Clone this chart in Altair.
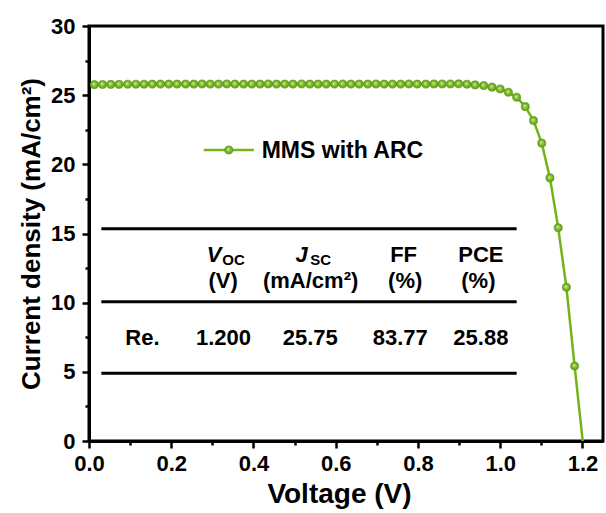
import altair as alt
import pandas as pd

# ---------------- data ----------------
voltage = [0.013, 0.033, 0.053, 0.073, 0.094, 0.114, 0.134, 0.154, 0.174, 0.194,
           0.214, 0.235, 0.255, 0.275, 0.295, 0.315, 0.335, 0.355, 0.376, 0.396,
           0.416, 0.436, 0.456, 0.476, 0.496, 0.517, 0.537, 0.557, 0.577, 0.597,
           0.617, 0.637, 0.657, 0.678, 0.698, 0.718, 0.738, 0.758, 0.778, 0.798,
           0.819, 0.839, 0.859, 0.879, 0.899, 0.919, 0.939, 0.960, 0.980, 1.000,
           1.020, 1.040, 1.061, 1.081, 1.101, 1.121, 1.141, 1.161, 1.181, 1.201]
current = [25.76, 25.77, 25.78, 25.78, 25.79, 25.79, 25.79, 25.80, 25.80, 25.80,
           25.80, 25.80, 25.80, 25.81, 25.80, 25.80, 25.81, 25.80, 25.80, 25.80,
           25.80, 25.81, 25.80, 25.80, 25.80, 25.81, 25.80, 25.80, 25.80, 25.80,
           25.81, 25.80, 25.80, 25.80, 25.81, 25.80, 25.80, 25.80, 25.81, 25.80,
           25.80, 25.81, 25.81, 25.81, 25.82, 25.79, 25.74, 25.69, 25.58, 25.45,
           25.21, 24.85, 24.17, 23.16, 21.53, 19.02, 15.42, 11.11, 5.42, -0.10]
series_name = "MMS with ARC"

x_major = [0.0, 0.2, 0.4, 0.6, 0.8, 1.0, 1.2]
x_minor = [0.1, 0.3, 0.5, 0.7, 0.9, 1.1]
y_major = [0, 5, 10, 15, 20, 25, 30]
y_minor = [2.5, 7.5, 12.5, 17.5, 22.5, 27.5]

row_label = "Re."
table_values = ["1.200", "25.75", "83.77", "25.88"]
header_units = ["(V)", "(mA/cm²)", "(%)", "(%)"]

# ---------------- layout (annotation positions in data units) ----------------
GREEN = "#74b41a"
FONT = "Liberation Sans"
row1_y, sub_y, row2_y, data_y = 12.94, 12.73, 11.06, 6.94
col_x = [0.327, 0.538, 0.757, 0.953]
unit_x = [0.326, 0.539, 0.769, 0.947]
label_x = 0.130
rule_ys = [15.35, 10.07, 4.90]
rule_x0, rule_x1 = 0.030, 1.040

df = pd.DataFrame({"V": voltage, "J": current})
xs = alt.Scale(domain=[0, 1.25], nice=False, zero=False)
ys = alt.Scale(domain=[0, 30], nice=False)

grad = alt.RadialGradient(
    gradient="radial",
    stops=[alt.GradientStop(offset=0, color="#f0f9dc"),
           alt.GradientStop(offset=0.35, color="#96cb45"),
           alt.GradientStop(offset=1, color="#5c9a12")],
    x1=0.42, y1=0.4, r1=0, x2=0.5, y2=0.5, r2=0.5)

major_x = alt.Axis(values=x_major, format=".1f", title="Voltage (V)", orient="bottom",
                   tickSize=7, tickWidth=2.5, labelPadding=5, titlePadding=6, labelFlush=False,
                   titleFontSize=28, labelFontSize=22, titleX=250, titleAlign="center")
minor_x = alt.Axis(values=x_minor, labels=False, title=None, orient="bottom",
                   tickSize=4, tickWidth=2.5, domain=False)
major_y = alt.Axis(values=y_major, format="d", title="Current density (mA/cm²)", orient="left",
                   tickSize=7, tickWidth=2.5, labelPadding=7, titlePadding=6, labelFlush=False,
                   titleFontSize=26, labelFontSize=22)
minor_y = alt.Axis(values=y_minor, labels=False, title=None, orient="left",
                   tickSize=4, tickWidth=2.5, domain=False)

line = alt.Chart(df).mark_line(color=GREEN, strokeWidth=2.5, clip=True).encode(
    x=alt.X("V:Q", scale=xs, axis=major_x),
    y=alt.Y("J:Q", scale=ys, axis=major_y))

points = alt.Chart(df).transform_filter("datum.J > 0").mark_point(
    filled=True, fill=grad, size=66, stroke="#5a9812", strokeWidth=0.6, opacity=1).encode(
    x=alt.X("V:Q", scale=xs, axis=minor_x),
    y=alt.Y("J:Q", scale=ys, axis=minor_y))

# legend
leg_line_df = pd.DataFrame({"x": [0.279], "x2": [0.401], "y": [21.04]})
leg_line = alt.Chart(leg_line_df).mark_rule(color=GREEN, strokeWidth=2.5).encode(
    x=alt.X("x:Q", scale=xs, axis=None), x2="x2:Q", y=alt.Y("y:Q", scale=ys, axis=None))
leg_pt = alt.Chart(pd.DataFrame({"x": [0.340], "y": [21.04]})).mark_point(
    filled=True, fill=grad, size=66, stroke="#5a9812", strokeWidth=0.6, opacity=1).encode(
    x=alt.X("x:Q", scale=xs, axis=None), y=alt.Y("y:Q", scale=ys, axis=None))
leg_txt = alt.Chart(pd.DataFrame({"x": [0.420], "y": [20.44], "t": [series_name]})).mark_text(
    align="left", baseline="alphabetic", font=FONT, fontSize=23, fontWeight="bold", color="black").encode(
    x=alt.X("x:Q", scale=xs, axis=None), y=alt.Y("y:Q", scale=ys, axis=None), text="t:N")

# table rules
rules_df = pd.DataFrame({"x": [rule_x0] * 3, "x2": [rule_x1] * 3, "y": rule_ys})
rules = alt.Chart(rules_df).mark_rule(color="black", strokeWidth=3).encode(
    x=alt.X("x:Q", scale=xs, axis=None), x2="x2:Q", y=alt.Y("y:Q", scale=ys, axis=None))

# table text
main_rows = (
    [{"x": unit_x[i], "y": row2_y, "t": header_units[i]} for i in range(4)]
    + [{"x": 0.765, "y": row1_y, "t": "FF"}, {"x": 0.953, "y": row1_y, "t": "PCE"}]
    + [{"x": label_x, "y": data_y, "t": row_label}]
    + [{"x": col_x[i], "y": data_y, "t": table_values[i]} for i in range(4)]
)
main_txt = alt.Chart(pd.DataFrame(main_rows)).mark_text(
    align="center", baseline="alphabetic", font=FONT, fontSize=22, fontWeight="bold", color="black").encode(
    x=alt.X("x:Q", scale=xs, axis=None), y=alt.Y("y:Q", scale=ys, axis=None), text="t:N")
ital_txt = alt.Chart(pd.DataFrame({"x": [0.322, 0.532], "y": [row1_y, row1_y], "t": ["V", "J"]})).mark_text(
    align="right", baseline="alphabetic", font=FONT, fontSize=22, fontWeight="bold", fontStyle="italic",
    color="black").encode(
    x=alt.X("x:Q", scale=xs, axis=None), y=alt.Y("y:Q", scale=ys, axis=None), text="t:N")
sub_txt = alt.Chart(pd.DataFrame({"x": [0.324, 0.538], "y": [sub_y, sub_y], "t": ["OC", "SC"]})).mark_text(
    align="left", baseline="alphabetic", font=FONT, fontSize=15, fontWeight="bold", color="black").encode(
    x=alt.X("x:Q", scale=xs, axis=None), y=alt.Y("y:Q", scale=ys, axis=None), text="t:N")

chart = alt.layer(line, points, rules, main_txt, ital_txt, sub_txt, leg_line, leg_pt, leg_txt).resolve_axis(
    x="independent", y="independent"
).properties(
    width=514, height=415,
    autosize=alt.AutoSizeParams(type="none"),
    padding={"left": 89, "top": 26, "right": 3, "bottom": 72},
).configure_view(
    stroke="black", strokeWidth=3
).configure_axis(
    domainColor="black", domainWidth=3, tickColor="black", labelColor="black", titleColor="black",
    labelFont=FONT, titleFont=FONT, labelFontWeight="bold", titleFontWeight="bold", grid=False
)

chart.save("out.html", embed_options={"renderer": "svg", "actions": False})
